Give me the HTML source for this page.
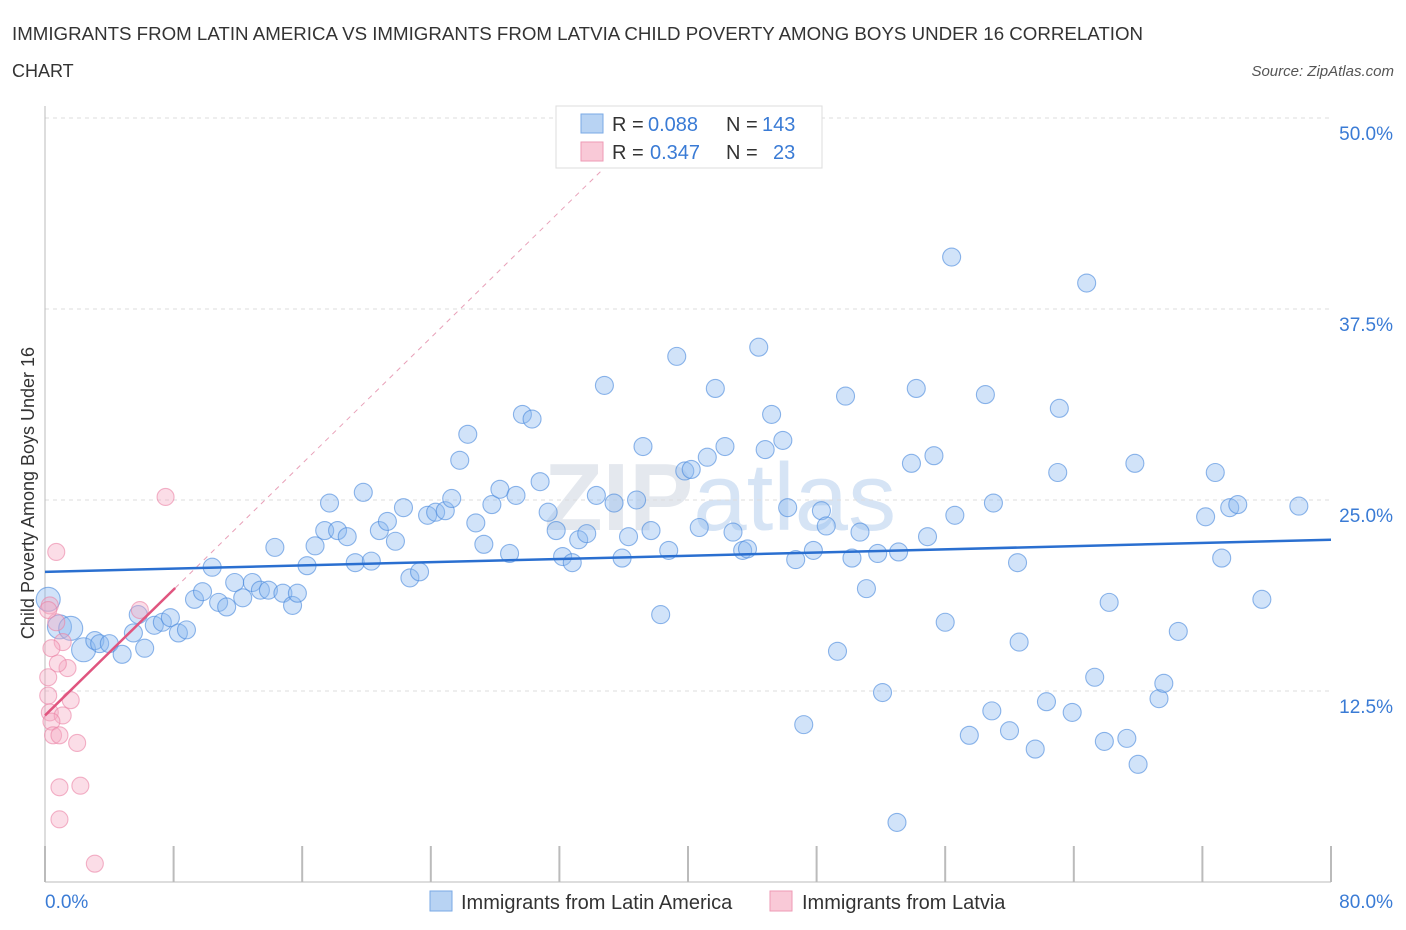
<!DOCTYPE html>
<html><head><meta charset="utf-8"><style>
body{margin:0;background:#fff;font-family:"Liberation Sans",sans-serif;}
#wrap{position:relative;width:1406px;height:930px;overflow:hidden}
</style></head><body>
<div id="wrap">
<svg id="svg" width="1406" height="930" xmlns="http://www.w3.org/2000/svg">
<text x="12" y="40" font-size="18" fill="#333" textLength="1131" lengthAdjust="spacingAndGlyphs">IMMIGRANTS FROM LATIN AMERICA VS IMMIGRANTS FROM LATVIA CHILD POVERTY AMONG BOYS UNDER 16 CORRELATION</text>
<text x="12" y="77" font-size="18" fill="#333">CHART</text>
<text x="1394" y="76" font-size="15" fill="#555" font-style="italic" text-anchor="end">Source: ZipAtlas.com</text>
<text x="720" y="530" font-size="96" fill="#e4e8ee" text-anchor="middle" font-weight="bold">ZIP<tspan font-weight="normal" fill="#d6e4f5">atlas</tspan></text>
<text transform="translate(34,493) rotate(-90)" font-size="18" fill="#333" text-anchor="middle">Child Poverty Among Boys Under 16</text>
<g id="grid"></g><g id="axes"></g><g id="marks"></g>
<g>
<rect x="556" y="106" width="266" height="62" fill="#fff" stroke="#ddd"/>
<rect x="581" y="114" width="22" height="19" fill="#b8d3f3" stroke="#7aaae6"/>
<rect x="581" y="142" width="22" height="19" fill="#f9c9d7" stroke="#ee9ab4"/>
<text x="612" y="131" font-size="20" fill="#333">R =</text>
<text x="648" y="131" font-size="20" fill="#3a7bd5">0.088</text>
<text x="726" y="131" font-size="20" fill="#333">N =</text>
<text x="762" y="131" font-size="20" fill="#3a7bd5">143</text>
<text x="612" y="159" font-size="20" fill="#333">R =</text>
<text x="650" y="159" font-size="20" fill="#3a7bd5">0.347</text>
<text x="726" y="159" font-size="20" fill="#333">N =</text>
<text x="773" y="159" font-size="20" fill="#3a7bd5">23</text>
</g>
<g>
<rect x="430" y="891" width="22" height="20" fill="#b8d3f3" stroke="#7aaae6"/>
<text x="461" y="909" font-size="20" fill="#333">Immigrants from Latin America</text>
<rect x="770" y="891" width="22" height="20" fill="#f9c9d7" stroke="#ee9ab4"/>
<text x="802" y="909" font-size="20" fill="#333">Immigrants from Latvia</text>
</g>
</svg></div>
<script>
const xTicks=[0,8,16,24,32,40,48,56,64,72,80];
const yTicks=[12.5,25,37.5,50];
const yTickLabels=["12.5%","25.0%","37.5%","50.0%"];
const xTickLabels=["0.0%","80.0%"];
const blueX=[0.2,0.9,1.6,2.4,3.1,3.4,4.0,4.8,5.5,6.2,5.8,6.8,7.3,7.8,8.3,8.8,9.3,9.8,10.4,10.8,11.3,11.8,12.3,12.9,13.4,13.9,14.3,14.8,15.4,15.7,16.3,16.8,17.4,17.7,18.2,18.8,19.3,19.8,20.3,20.8,21.3,21.8,22.3,22.7,23.3,23.8,24.3,24.9,25.3,25.8,26.3,26.8,27.3,27.8,28.3,28.9,29.3,29.7,30.3,30.8,31.3,31.8,32.2,32.8,33.2,33.7,34.3,34.8,35.4,35.9,36.3,36.8,37.2,37.7,38.3,38.8,39.3,39.8,40.2,40.7,41.2,41.7,42.3,42.8,43.4,43.7,44.4,44.8,45.2,45.9,46.2,46.7,47.2,47.8,48.3,48.6,49.3,49.8,50.2,50.7,51.1,51.8,52.1,53.0,53.1,53.9,54.2,54.9,55.3,56.0,56.4,56.6,57.5,58.5,58.9,59.0,60.0,60.5,60.6,61.6,62.3,63.0,63.1,63.9,64.8,65.3,65.9,66.2,67.3,67.8,68.0,69.3,69.6,70.5,72.2,72.8,73.2,73.7,74.2,75.7,78.0];
const blueY=[18.5,16.7,16.6,15.2,15.8,15.6,15.6,14.9,16.3,15.3,17.5,16.8,17.0,17.3,16.3,16.5,18.5,19.0,20.6,18.3,18.0,19.6,18.6,19.6,19.1,19.1,21.9,18.9,18.1,18.9,20.7,22.0,23.0,24.8,23.0,22.6,20.9,25.5,21.0,23.0,23.6,22.3,24.5,19.9,20.3,24.0,24.2,24.3,25.1,27.6,29.3,23.5,22.1,24.7,25.7,21.5,25.3,30.6,30.3,26.2,24.2,23.0,21.3,20.9,22.4,22.8,25.3,32.5,24.8,21.2,22.6,25.0,28.5,23.0,17.5,21.7,34.4,26.9,27.0,23.2,27.8,32.3,28.5,22.9,21.7,21.8,35.0,28.3,30.6,28.9,24.5,21.1,10.3,21.7,24.3,23.3,15.1,31.8,21.2,22.9,19.2,21.5,12.4,3.9,21.6,27.4,32.3,22.6,27.9,17.0,40.9,24.0,9.6,31.9,11.2,24.8,9.9,20.9,15.7,8.7,11.8,26.8,31.0,11.1,39.2,13.4,9.2,18.3,9.4,27.4,7.7,12.0,13.0,16.4,23.9,26.8,21.2,24.5,24.7,18.5,24.6];
const pinkX=[0.7,0.3,0.7,1.1,0.4,1.4,0.8,0.2,0.2,1.6,0.3,1.1,0.4,0.5,0.9,2.0,0.9,2.2,0.9,3.1,7.5,5.9,0.2];
const pinkY=[21.6,18.1,17.0,15.7,15.3,14.0,14.3,13.4,12.2,11.9,11.1,10.9,10.5,9.6,9.6,9.1,6.2,6.3,4.1,1.2,25.2,17.8,17.8];
const blueTrend=[20.3,22.4];
const pinkTrend=[10.9,1.03];
const NS="http://www.w3.org/2000/svg";
const X=v=>45+v/80*1286, Y=v=>882-v/50*764;
function mk(t,a,p){const e=document.createElementNS(NS,t);for(const k in a)e.setAttribute(k,a[k]);p.appendChild(e);return e;}
const grid=document.getElementById('grid'),axes=document.getElementById('axes'),marks=document.getElementById('marks');
yTicks.forEach((t,i)=>{
 const g=mk('line',{x1:45,x2:1331,y1:Y(t),y2:Y(t),stroke:'#ddd','stroke-dasharray':'4,4'},grid);
 
 
 const l=mk('text',{x:1393,y:Y(t)+22,'font-size':19,fill:'#3a7bd5','text-anchor':'end'},axes);
 l.textContent=yTickLabels[i];
 
 
});
const ax=mk('line',{x1:45,x2:45,y1:106,y2:882,stroke:'#bbb'},axes);


const bx=mk('line',{x1:45,x2:1331,y1:882,y2:882,stroke:'#bbb'},axes);


xTicks.forEach(t=>{const e=mk('line',{x1:X(t),x2:X(t),y1:846,y2:882,stroke:'#bbb','stroke-width':2},axes);
 
 });
const xl0=mk('text',{x:45,y:908,'font-size':19,fill:'#3a7bd5'},axes);xl0.textContent=xTickLabels[0];


const xl1=mk('text',{x:1393,y:908,'font-size':19,fill:'#3a7bd5','text-anchor':'end'},axes);xl1.textContent=xTickLabels[1];


const pd=mk('line',{x1:X(8.1),y1:Y(pinkTrend[0]+pinkTrend[1]*8.1),x2:X(35),y2:Y(pinkTrend[0]+pinkTrend[1]*35),stroke:'#e8a0b8','stroke-dasharray':'5,5'},marks);


blueX.forEach((x,i)=>{const r=i<4?12:9;const c=mk('circle',{cx:X(x),cy:Y(blueY[i]),r:r,fill:'rgba(140,185,240,0.4)',stroke:'rgba(70,135,220,0.6)','stroke-width':1.1},marks);
 
 });
pinkX.forEach((x,i)=>{const c=mk('circle',{cx:X(x),cy:Y(pinkY[i]),r:8.5,fill:'rgba(245,170,195,0.4)',stroke:'rgba(235,130,165,0.6)','stroke-width':1.1},marks);
 
 });
const bt=mk('line',{x1:X(0),y1:Y(blueTrend[0]),x2:X(80),y2:Y(blueTrend[1]),stroke:'#2a6fd0','stroke-width':2.5},marks);


const pt=mk('line',{x1:X(0),y1:Y(pinkTrend[0]),x2:X(8.1),y2:Y(pinkTrend[0]+pinkTrend[1]*8.1),stroke:'#e0557f','stroke-width':2.5},marks);


</script>
</body></html>
